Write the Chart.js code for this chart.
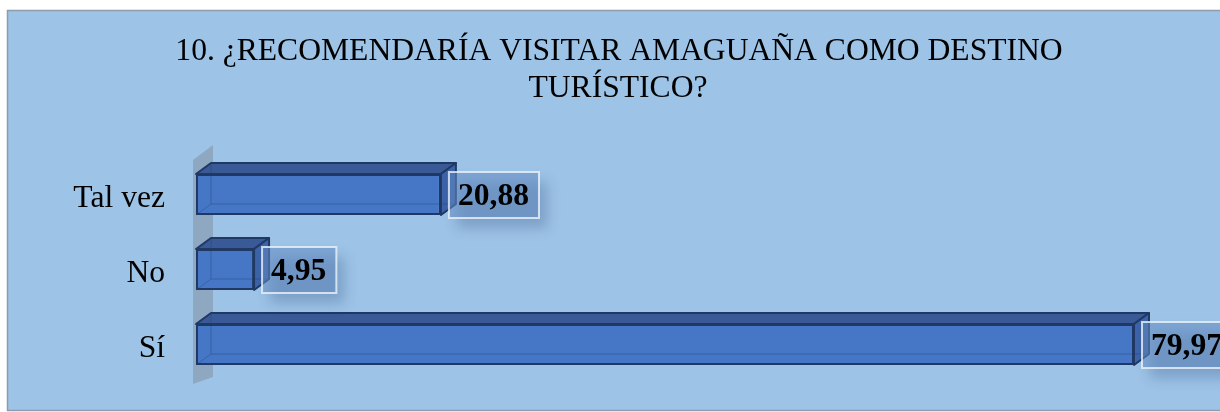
<!DOCTYPE html>
<html>
<head>
<meta charset="utf-8">
<script src="https://cdn.jsdelivr.net/npm/chart.js@4.4.0/dist/chart.umd.min.js"></script>
<style>
  html, body { margin: 0; padding: 0; background: #fff; }
  #wrap { position: relative; width: 1220px; height: 412px; }
</style>
</head>
<body>
<div id="wrap"><canvas id="chart" width="1220" height="412"></canvas></div>
<script>
const titleLines = ['10. ¿RECOMENDARÍA VISITAR AMAGUAÑA COMO DESTINO', 'TURÍSTICO?'];
const categories = ['Tal vez', 'No', 'Sí'];
const values = [20.88, 4.95, 79.97];
const valueLabels = ['20,88', '4,95', '79,97'];

const SERIF = '"Liberation Serif", "Times New Roman", serif';
const DEPTH_X = 15, DEPTH_Y = 11;

// fondo, marco y título
const backdrop = {
    id: 'backdrop',
    beforeDraw(chart) {
        const c = chart.ctx;
        c.save();
        c.fillStyle = '#ffffff';
        c.fillRect(0, 0, chart.width, chart.height);
        c.fillStyle = '#9dc3e6';
        c.fillRect(7, 10, chart.width + 10, 400);
        c.strokeStyle = '#8d9cad';
        c.lineWidth = 1.5;
        c.strokeRect(7.5, 10.5, chart.width + 10, 400);
        c.fillStyle = '#000';
        c.font = '31.6px ' + SERIF;
        c.textAlign = 'center';
        c.textBaseline = 'alphabetic';
        c.fillText(titleLines[0], 619, 60);
        c.fillText(titleLines[1], 618, 97);
        c.restore();
    }
};

// pared lateral y caras superior / lateral de las barras
const bars3d = {
    id: 'bars3d',
    beforeDatasetsDraw(chart) {
        const c = chart.ctx;
        const a = chart.chartArea;
        c.save();
        c.fillStyle = '#8fa8c2';
        c.beginPath();
        c.moveTo(a.left - 3, a.top + 3);
        c.lineTo(a.left + 17, a.top - 12);
        c.lineTo(a.left + 17, a.bottom - 5);
        c.lineTo(a.left - 3, a.bottom + 2);
        c.closePath();
        c.fill();

        chart.getDatasetMeta(0).data.forEach(bar => {
            const x0 = bar.base, x1 = bar.x;
            const yT = bar.y - bar.height / 2, yB = bar.y + bar.height / 2;
            c.lineJoin = 'round';
            c.strokeStyle = '#203864';
            c.lineWidth = 2;
            // cara superior
            c.fillStyle = '#395a96';
            c.beginPath();
            c.moveTo(x0, yT);
            c.lineTo(x0 + DEPTH_X, yT - DEPTH_Y);
            c.lineTo(x1 + DEPTH_X, yT - DEPTH_Y);
            c.lineTo(x1, yT);
            c.closePath();
            c.fill();
            c.stroke();
            // cara lateral
            c.fillStyle = '#3c62a8';
            c.beginPath();
            c.moveTo(x1, yT);
            c.lineTo(x1 + DEPTH_X, yT - DEPTH_Y);
            c.lineTo(x1 + DEPTH_X, yB - DEPTH_Y);
            c.lineTo(x1, yB);
            c.closePath();
            c.fill();
            c.stroke();
        });
        c.restore();
    },
    afterDatasetsDraw(chart) {
        const c = chart.ctx;
        c.save();
        chart.getDatasetMeta(0).data.forEach((bar, i) => {
            const x0 = bar.base, x1 = bar.x;
            const yT = bar.y - bar.height / 2, yB = bar.y + bar.height / 2;
            // aristas ocultas
            c.strokeStyle = 'rgba(32,56,100,0.35)';
            c.lineWidth = 1;
            c.beginPath();
            c.moveTo(x0 + DEPTH_X, yT - DEPTH_Y);
            c.lineTo(x0 + DEPTH_X, yB - DEPTH_Y);
            c.lineTo(x1 + DEPTH_X, yB - DEPTH_Y);
            c.moveTo(x0, yB);
            c.lineTo(x0 + DEPTH_X, yB - DEPTH_Y);
            c.stroke();

            // etiqueta de datos
            c.font = 'bold 31.6px ' + SERIF;
            const tw = c.measureText(valueLabels[i]).width;
            const bx = x1 + 8, bw = tw + 19, bh = 46, by = bar.y - bh / 2 + 0.5;
            c.save();
            c.shadowColor = 'rgba(40,70,120,0.5)';
            c.shadowBlur = 12;
            c.shadowOffsetX = 8;
            c.shadowOffsetY = 10;
            c.fillStyle = 'rgba(100,140,195,0.55)';
            c.fillRect(bx, by, bw, bh);
            c.restore();
            c.strokeStyle = 'rgba(235,242,250,0.8)';
            c.lineWidth = 2;
            c.strokeRect(bx, by, bw, bh);
            c.fillStyle = '#000';
            c.textAlign = 'left';
            c.textBaseline = 'middle';
            c.fillText(valueLabels[i], bx + 9, bar.y + 2);
        });
        c.restore();
    }
};

new Chart(document.getElementById('chart'), {
    type: 'bar',
    data: {
        labels: categories,
        datasets: [{
            data: values,
            backgroundColor: '#4677c6',
            borderColor: '#203864',
            borderWidth: 2,
            borderSkipped: false,
            barPercentage: 41 / 75,
            categoryPercentage: 1
        }]
    },
    options: {
        indexAxis: 'y',
        responsive: false,
        animation: false,
        events: [],
        layout: { padding: { top: 157, bottom: 30, left: 0, right: 27 } },
        plugins: { legend: { display: false }, title: { display: false }, tooltip: { enabled: false } },
        scales: {
            x: { display: false, min: 0, max: 85 },
            y: {
                grid: { display: false, drawTicks: false },
                border: { display: false },
                afterFit(scale) {
                    scale.width = 196;
                    scale.paddingTop = 0;
                    scale.paddingBottom = 0;
                },
                ticks: {
                    color: '#000',
                    padding: 31,
                    labelOffset: 4,
                    font: { family: SERIF, size: 31.6 }
                }
            }
        }
    },
    plugins: [backdrop, bars3d]
});
</script>
</body>
</html>
